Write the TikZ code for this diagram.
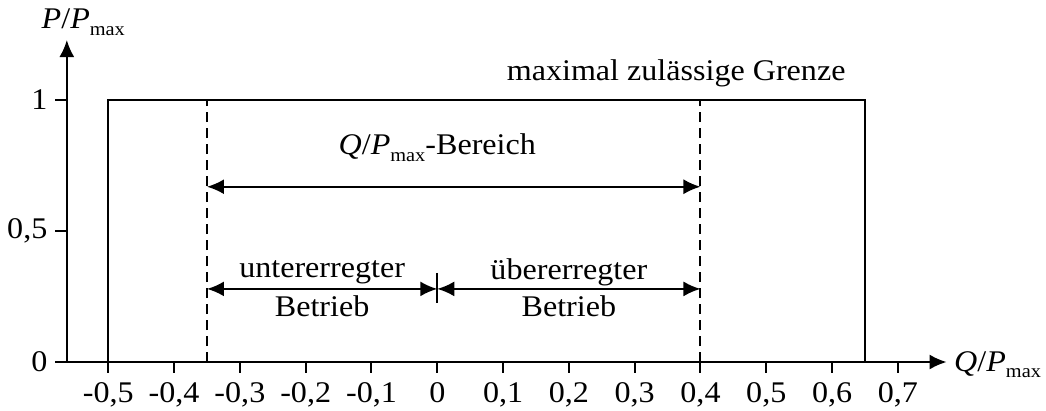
\documentclass[tikz,border=0pt]{standalone}
\usepackage{fontspec}
\setmainfont{Liberation Serif}[FakeStretch=1.07]
\usetikzlibrary{arrows.meta}

\newcommand{\submax}{\raisebox{-0.5ex}{\fontsize{9.5}{11}\selectfont max}}
\newcommand{\ratio}[1]{\textit{#1}/\textit{P}\submax}

\tikzset{
  axis/.style={line width=1pt, -{Latex[length=8.5pt,width=7.5pt]}},
  frame/.style={line width=1pt},
  limit/.style={line width=1pt, dash pattern=on 5pt off 3pt},
  span/.style={line width=1pt, {Latex[length=8.5pt,width=7.5pt]}-{Latex[length=8.5pt,width=7.5pt]}},
  lbl/.style={font=\fontsize{15}{17}\selectfont, inner sep=0pt}
}

\begin{document}
\begin{tikzpicture}[x=329pt, y=131pt]
  \useasboundingbox (-0.6646,-0.1832) rectangle (0.9251,1.3817);
  % axes
  \coordinate (xstart) at (-0.581,0);
  \coordinate (xend) at (0.774,0);
  \coordinate (origin) at (-0.563,0);
  \coordinate (yend) at (-0.563,1.229);
  \draw[axis] (xstart) -- (xend);
  \draw[axis] (origin) -- (yend);
  \node[lbl, anchor=west] (qlabel) at (0.785,-0.01) {\ratio{Q}};
  \node[lbl] (plabel) at (-0.538,1.298) {\ratio{P}};
  % x ticks
  \foreach \q/\t [count=\i] in {-0.5/{-0,5}, -0.4/{-0,4}, -0.3/{-0,3},
      -0.2/{-0,2}, -0.1/{-0,1}, 0/0, 0.1/{0,1}, 0.2/{0,2}, 0.3/{0,3},
      0.4/{0,4}, 0.5/{0,5}, 0.6/{0,6}, 0.7/{0,7}} {
    \coordinate (xt\i) at (\q,0);
    \draw[frame] (xt\i) -- ++(0,-0.042);
    \node[lbl, anchor=base] (xtick\i) at (\q,-0.155) {\t};
  }
  % y ticks
  \foreach \p/\t [count=\i] in {0/0, 0.5/{0,5}, 1/1} {
    \coordinate (yt\i) at (-0.563,\p);
    \draw[frame] (yt\i) -- ++(-0.018,0);
    \node[lbl, anchor=east] (ytick\i) at (-0.592,\p) {\t};
  }
  % maximal zulaessige Grenze
  \coordinate (bl) at (-0.5,0);
  \coordinate (tl) at (-0.5,1);
  \coordinate (tr) at (0.65,1);
  \coordinate (br) at (0.65,0);
  \draw[frame] (bl) -- (tl) -- (tr) -- (br);
  \node[lbl] (grenze) at (0.363,1.10) {maximal zulässige Grenze};
  % Q/Pmax-Bereich
  \coordinate (lo) at (-0.35,0);
  \coordinate (lt) at (-0.35,1);
  \coordinate (ro) at (0.4,0);
  \coordinate (rt) at (0.4,1);
  \draw[limit] (lo) -- (lt);
  \draw[limit] (ro) -- (rt);
  \coordinate (bl1) at (-0.35,0.669);
  \coordinate (br1) at (0.4,0.669);
  \draw[span] (bl1) -- (br1);
  \node[lbl] (bereich) at (0,0.817) {\ratio{Q}-Bereich};
  % unter-/uebererregter Betrieb
  \coordinate (ul) at (-0.35,0.279);
  \coordinate (um) at (0,0.279);
  \coordinate (ur) at (0.4,0.279);
  \coordinate (bartop) at (0,0.34);
  \coordinate (barbot) at (0,0.225);
  \draw[span] (ul) -- (um);
  \draw[span] (um) -- (ur);
  \draw[frame] (bartop) -- (barbot);
  \node[lbl] (unter) at (-0.175,0.344) {untererregter};
  \node[lbl] (unterb) at (-0.175,0.214) {Betrieb};
  \node[lbl] (ueber) at (0.2,0.344) {übererregter};
  \node[lbl] (ueberb) at (0.2,0.214) {Betrieb};
\end{tikzpicture}
\end{document}
